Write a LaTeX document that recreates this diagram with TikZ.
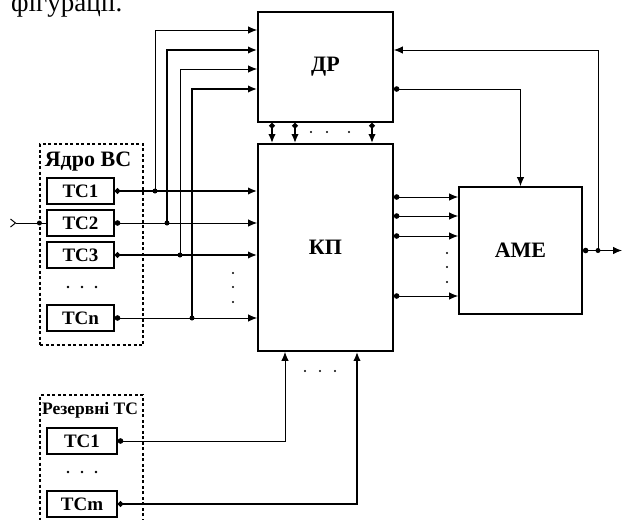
\documentclass[tikz,border=0pt]{standalone}
\usepackage{fontspec}
\setmainfont{Liberation Serif}
\usetikzlibrary{arrows.meta}
\tikzset{
  blk/.style={draw, line width=1.8pt, fill=white, font=\bfseries\fontsize{22}{26}\selectfont},
  tcbox/.style={draw, line width=1.5pt, minimum width=67pt, minimum height=26pt, font=\bfseries\fontsize{19}{22}\selectfont},
  grp/.style={draw, line width=1.2pt, dash pattern=on 3pt off 2.5pt},
  tip/.style={-{Latex[length=9pt,width=7.5pt]}},
  sig/.style={line width=1pt, {Circle[length=5.5pt]}-{Latex[length=9pt,width=7.5pt]}},
  sigb/.style={sig, line width=1.9pt},
}
\begin{document}
\begin{tikzpicture}[x=1pt,y=-1pt]
\useasboundingbox (0,0) rectangle (622,520);
\node[font=\fontsize{27}{30}\selectfont, anchor=base west, inner sep=0pt] (cap) at (11,11) {фігурації.};
% groups
\node[grp, minimum width=103pt, minimum height=201pt] (core) at (91.5,244.5) {};
\node[grp, minimum width=103pt, minimum height=150pt] (rsv) at (91.5,470) {};
\node[font=\bfseries\fontsize{22}{24}\selectfont] (corelbl) at (88,162) {Ядро ВС};
\node[font=\bfseries\fontsize{17.5}{20}\selectfont] (rsvlbl) at (90,410) {Резервні ТС};
% blocks
\node[blk, minimum width=135pt, minimum height=110pt] (dr) at (325.5,67) {ДР};
\node[blk, minimum width=135pt, minimum height=207pt] (kp) at (325.5,247.5) {КП};
\node[blk, minimum width=123pt, minimum height=127pt] (ame) at (520.5,250.5) {AME};
\node[tcbox] (tc1) at (80.5,191) {ТС1};
\node[tcbox] (tc2) at (80.5,223) {ТС2};
\node[tcbox] (tc3) at (80.5,255) {ТС3};
\node[tcbox] (tcn) at (80.5,318) {ТСn};
\node[tcbox, minimum width=70pt] (rtc1) at (82,441) {ТС1};
\node[tcbox, minimum width=70pt] (rtcm) at (82,504) {ТСm};
% core to KP
\draw[sigb] (tc1.east) -- (kp.west |- tc1.east);
\draw[sig] (tc2.east) -- (kp.west |- tc2.east);
\draw[sigb] (tc3.east) -- (kp.west |- tc3.east);
\draw[sig] (tcn.east) -- (kp.west |- tcn.east);
% taps to DR
\coordinate (j1) at (155,191);
\coordinate (j2) at (167,223);
\coordinate (j3) at (180,255);
\coordinate (j4) at (192,318);
\draw[line width=1pt, tip] (j1) |- (dr.west |- 0,30);
\draw[line width=1.9pt, tip] (j2) |- (dr.west |- 0,50);
\draw[line width=1pt, tip] (j3) |- (dr.west |- 0,69);
\draw[line width=1.9pt, tip] (j4) |- (dr.west |- 0,89);
\foreach \j in {j1,j2,j3,j4} \fill (\j) circle (2.5pt);
% input
\coordinate (in) at (10,223);
\draw[line width=1pt, {Straight Barb[reversed,length=5pt,width=8pt]}-] (in) -- (tc2.west);
\fill (core.west |- tc2.west) circle (2.5pt);
% DR to KP
\draw[sigb] (dr.south -| 272,0) -- (kp.north -| 272,0);
\draw[sigb] (dr.south -| 295,0) -- (kp.north -| 295,0);
\draw[sigb] (dr.south -| 372,0) -- (kp.north -| 372,0);
\foreach \x in {311,327,349} \fill (\x,132) circle (1.1pt);
% DR to AME
\draw[sig] (dr.east |- 0,89) -| (ame.north);
% KP to AME
\foreach \y in {197,216,236,296}
  \draw[sig] (kp.east |- 0,\y) -- (ame.west |- 0,\y);
\foreach \y in {253,267,282} \fill (447,\y) circle (1.1pt);
\foreach \y in {273,287,302} \fill (233,\y) circle (1.1pt);
% AME output and feedback
\coordinate (out) at (622,250.5);
\coordinate (fb) at (598,250.5);
\draw[sig] (ame.east) -- (out);
\draw[line width=1pt, tip] (fb) |- (dr.east |- 0,50);
\fill (fb) circle (2.5pt);
% reserve to KP
\draw[sig] (rtc1.east) -| (kp.south -| 285,0);
\draw[sigb] (rtcm.east) -| (kp.south -| 357,0);
\foreach \x in {305,320,335} \fill (\x,371) circle (1.1pt);
\foreach \x in {68,82,96} \fill (\x,287) circle (1.3pt);
\foreach \x in {68,82,96} \fill (\x,472) circle (1.3pt);
\end{tikzpicture}
\end{document}
